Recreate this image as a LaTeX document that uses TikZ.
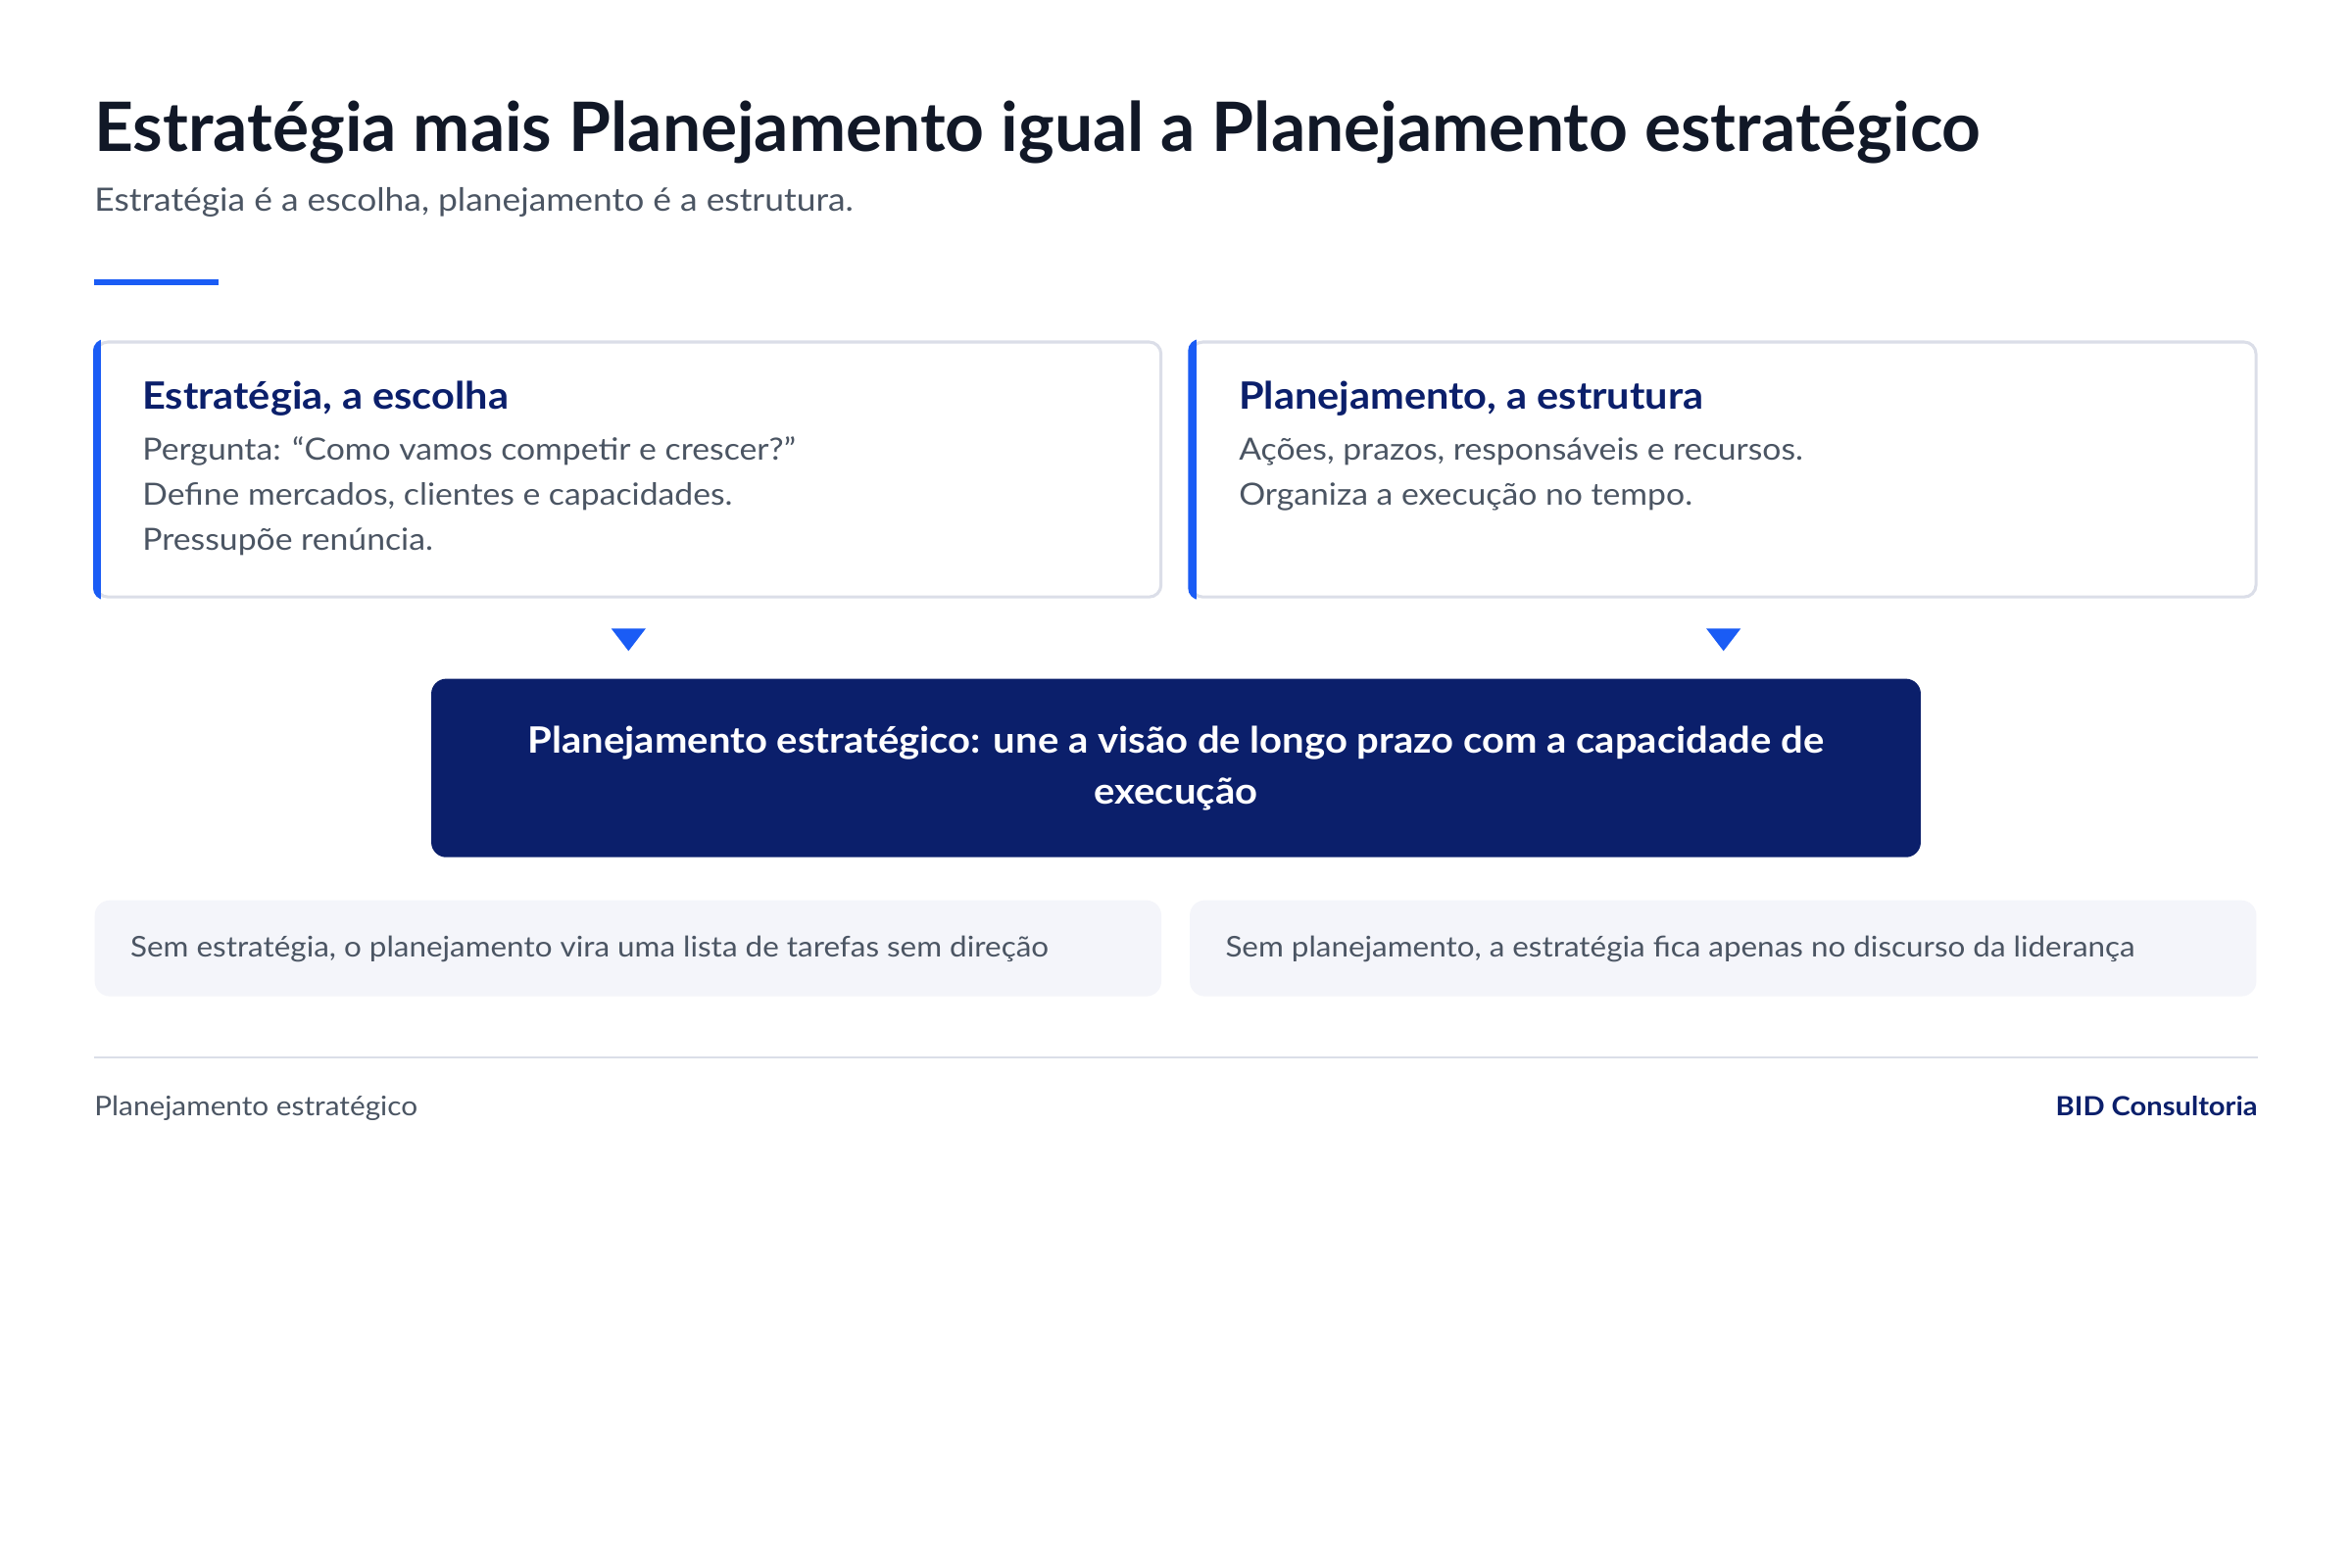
\documentclass[tikz,border=0pt]{standalone}
\usepackage{fontspec}
\setmainfont{Lato}[FakeStretch=1.08]
\newfontfamily\titlefont{Lato}
\usetikzlibrary{calc}
\definecolor{ink}{HTML}{111827}
\definecolor{muted}{HTML}{4B5563}
\definecolor{navy}{HTML}{0B1F6B}
\definecolor{accent}{HTML}{1A5CF5}
\definecolor{bordergray}{HTML}{DBDEE8}
\definecolor{soft}{HTML}{F4F5FA}
\newcommand{\fs}[2]{\fontsize{#1}{#2}\selectfont}
\begin{document}
\begin{tikzpicture}[x=1pt,y=-1pt,
  txt/.style={inner sep=0pt, outer sep=0pt},
  cardbox/.style={draw=bordergray, line width=2pt, fill=white, rounded corners=8pt, minimum width=710pt, minimum height=170pt, anchor=north west, inner sep=0pt},
  cardtitle/.style={txt, anchor=base west, font=\fs{25.1}{30}\bfseries, text=navy},
  cardline/.style={txt, anchor=base west, font=\fs{20.4}{30}, text=muted},
  notebox/.style={fill=soft, rounded corners=10pt, minimum width=711pt, minimum height=64pt, anchor=north west, inner sep=0pt},
  notetext/.style={txt, anchor=base west, font=\fs{19}{24}, text=muted},
  tri/.style={fill=accent},
]
\useasboundingbox[fill=white] (0,0) rectangle (1568,1045.33);

% header
\node[txt, anchor=base west, font=\titlefont\fs{45.4}{52}\bfseries, text=ink] (title) at (63,101) {Estratégia mais Planejamento igual a Planejamento estratégico};
\node[txt, anchor=base west, font=\fs{21.4}{26}, text=muted] (subtitle) at (63,141) {Estratégia é a escolha, planejamento é a estrutura.};
\coordinate (barL) at (63,188);
\coordinate (barR) at (146,188);
\draw[accent, line width=4pt] (barL) -- (barR);

% cards
\foreach \n/\x in {c1/63,c2/793}{
  \node[cardbox] (\n) at (\x,227) {};
  \begin{scope}
    \clip[rounded corners=8pt] ($(\n.north west)+(-1,-1)$) rectangle ($(\n.south east)+(1,1)$);
    \fill[accent] ($(\n.north west)+(-1,-1)$) rectangle ($(\n.south west)+(4.5,1)$);
  \end{scope}
}
\node[cardtitle] (c1t) at (95,273) {Estratégia, a escolha};
\node[cardline] (c1a) at (95,307) {Pergunta: “Como vamos competir e crescer?”};
\node[cardline] (c1b) at (95,337) {Define mercados, clientes e capacidades.};
\node[cardline] (c1c) at (95,367) {Pressupõe renúncia.};

\node[cardtitle] (c2t) at (826,273) {Planejamento, a estrutura};
\node[cardline] (c2a) at (826,307) {Ações, prazos, responsáveis e recursos.};
\node[cardline] (c2b) at (826,337) {Organiza a execução no tempo.};

% synthesis box
\node[fill=navy, rounded corners=10pt, minimum width=993pt, minimum height=119pt, inner sep=0pt,
      text=white, font=\fs{24.2}{34}\bfseries, align=center] (mid) at (784,512)
      {Planejamento estratégico: une a visão de longo prazo com a capacidade de\\execução};

% arrow heads
\foreach \n in {c1,c2}{
  \fill[tri] ($(\n.south)+(-11.5,20)$) -- ($(\n.south)+(11.5,20)$) -- ($(\n.south)+(0,35)$) -- cycle;
}

% notes
\node[notebox] (n1) at (63,600) {};
\node[notebox] (n2) at (793,600) {};
\node[notetext] (n1t) at (87,638) {Sem estratégia, o planejamento vira uma lista de tarefas sem direção};
\node[notetext] (n2t) at (817,638) {Sem planejamento, a estratégia fica apenas no discurso da liderança};

% footer
\coordinate (divL) at (63,705);
\coordinate (divR) at (1505,705);
\draw[bordergray, line width=1.5pt] (divL) -- (divR);
\node[txt, anchor=base west, font=\fs{18}{22}, text=muted] (foot1) at (63,744) {Planejamento estratégico};
\node[txt, anchor=base east, font=\fs{17.6}{22}\bfseries, text=navy] (foot2) at (1505,744) {BID Consultoria};
\end{tikzpicture}
\end{document}
